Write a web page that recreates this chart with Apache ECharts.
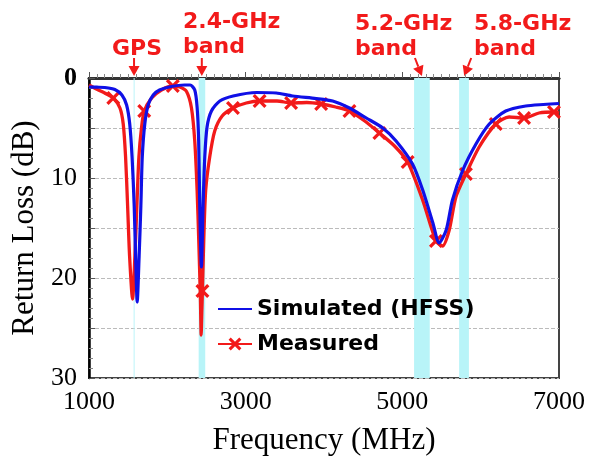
<!DOCTYPE html>
<html><head><meta charset="utf-8">
<script src="https://cdn.jsdelivr.net/npm/echarts/dist/echarts.min.js"></script>
<style>html,body{margin:0;padding:0;background:#fff}#c{width:589px;height:461px}</style>
</head><body><div id="c"></div>
<script>
// ---- data ----
const simFreq = [1000,1100,1200,1330,1420,1480,1520,1550,1577,1595,1615,1640,1662,1680,1712,1755,1820,1900,2050,2220,2290,2350,2380,2400,2414,2435,2456,2478,2507,2563,2670,2840,3140,3390,3600,3900,4110,4325,4540,4750,4920,5130,5260,5390,5470,5560,5640,5770,5940,6110,6320,6575,6800,7000];
const simDb   = [0.9,0.92,0.95,1.15,1.7,2.7,4.6,7.9,12.8,17.8,22.4,17.8,12.8,7.9,4.6,2.7,1.7,1.2,0.85,0.7,0.7,1.2,2.9,6.3,12.8,18.9,12.8,7.9,4.9,3.3,2.3,1.8,1.45,1.5,1.8,2.05,2.3,3.0,4.0,5.0,6.3,8.6,11.2,14.5,16.5,15.2,12.2,9.25,6.6,4.6,3.3,2.8,2.65,2.55];
const measFreq = [1000,1120,1200,1310,1395,1437,1467,1493,1518,1556,1586,1611,1637,1670,1705,1800,1925,2070,2160,2245,2308,2350,2380,2401,2422,2432,2440,2448,2465,2490,2541,2605,2700,2838,3008,3178,3400,3580,3780,3964,4150,4325,4520,4707,4900,5068,5259,5429,5514,5599,5684,5812,5981,6193,6363,6554,6745,6936,7000];
const measDb   = [0.7,1.2,1.5,2.0,3.0,4.6,7.9,12.8,17.8,22.1,17.8,12.8,7.9,5.0,3.3,2.0,1.2,0.8,0.9,1.35,3.0,6.3,11.2,16.2,22.0,25.7,23.5,21.3,16.2,11.2,7.9,5.3,3.8,3.0,2.5,2.3,2.3,2.5,2.45,2.6,2.9,3.3,4.3,5.5,6.8,8.4,12.2,16.3,16.8,15.2,11.9,9.6,6.9,4.6,3.9,4.0,3.5,3.4,3.5];
const markerFreq = [1310,1705,2070,2448,2838,3178,3580,3964,4325,4707,5068,5429,5812,6193,6554,6936];
const xTickLabels = [1000,3000,5000,7000];
const yTickLabels = [0,10,20,30];
const bandFrom = [1570,2400,5150,5725];
const bandTo   = [1582,2484,5350,5850];
const bandTip  = [1575,2440,5250,5790];
const bandLabels = ['GPS','2.4-GHz\nband','5.2-GHz\nband','5.8-GHz\nband'];

const RED = '#f21a1a', BLUE = '#1010e6', CYAN = '#b8f4f8';
const xPath = 'path://M0,2 L2,0 L6,4 L10,0 L12,2 L8,6 L12,10 L10,12 L6,8 L2,12 L0,10 L4,6 Z';

const measData = measFreq.map((f,i)=> markerFreq.includes(f) ? {value:[f,measDb[i]]} : {value:[f,measDb[i]], symbol:'none'});
const simData = simFreq.map((f,i)=>[f,simDb[i]]);

const chart = echarts.init(document.getElementById('c'), null, {renderer:'canvas'});
const serif = 'Liberation Serif';
chart.setOption({
  animation:false,
  backgroundColor:'#fff',
  grid:{left:89,right:30,top:78,bottom:78,show:true,borderColor:'#444',borderWidth:2},
  legend:{
    orient:'vertical', left:212, top:293, itemGap:13, itemWidth:34, itemHeight:16,
    data:[{name:'Simulated (HFSS)', itemStyle:{opacity:0}},'Measured'],
    textStyle:{fontFamily:'DejaVu Sans',fontWeight:'bold',fontSize:22,color:'#000'}
  },
  xAxis:[{
    type:'value', min:1000, max:7000, interval:2000,
    axisLine:{lineStyle:{color:'#000',width:2.5}},
    axisTick:{inside:true,length:6,lineStyle:{color:'#555'}},
    minorTick:{show:true,splitNumber:20,length:4,lineStyle:{color:'#888'}},
    splitLine:{show:false},
    axisLabel:{fontFamily:serif,fontSize:26,color:'#000',margin:11,
      formatter:v=> xTickLabels.includes(v)? String(v):''},
    name:'Frequency (MHz)', nameLocation:'middle', nameGap:47,
    nameTextStyle:{fontFamily:serif,fontSize:31,color:'#000'}
  },{
    type:'value', position:'top', min:1000, max:7000,
    axisLine:{lineStyle:{color:'#333',width:3}}, axisTick:{show:false},
    axisLabel:{show:false}, splitLine:{show:false}
  }],
  yAxis:{
    type:'value', inverse:true, min:0, max:30, interval:5,
    axisLine:{lineStyle:{color:'#000',width:2.5}},
    axisTick:{inside:true,length:6,lineStyle:{color:'#555'}},
    minorTick:{show:true,splitNumber:5,length:4,lineStyle:{color:'#888'}},
    splitLine:{show:true,lineStyle:{color:'#bbb',type:'dashed',width:1}},
    axisLabel:{fontFamily:serif,fontSize:26,color:'#000',margin:12,
      formatter:v=> yTickLabels.includes(v) ? (v===0?'{b|0}':String(v)) : '',
      rich:{b:{fontFamily:serif,fontSize:26,fontWeight:'bold',color:'#000'}}},
    name:'Return Loss (dB)', nameLocation:'middle', nameGap:48,
    nameTextStyle:{fontFamily:serif,fontSize:31,color:'#000'}
  },
  series:[{
    name:'Measured', type:'line', data:measData, z:2,
    symbol:xPath, symbolSize:14, showSymbol:true, smooth:0.25,
    lineStyle:{color:RED,width:3.3}, itemStyle:{color:RED},
    markArea:{silent:true,itemStyle:{color:CYAN,opacity:1},
      data: bandFrom.map((f,i)=>[{xAxis:f},{xAxis:bandTo[i]}])}
  },{
    name:'Simulated (HFSS)', type:'line', data:simData, z:3, smooth:0.25,
    symbol:'none', showSymbol:false,
    lineStyle:{color:BLUE,width:3.2}, itemStyle:{color:BLUE}
  }]
});

// annotations: band labels + arrows
const textPos = [[112,37],[183,10],[355,12],[474,12]];
const starts = [0,0,-7,7];
const g = [];
bandTip.forEach((f,i)=>{
  const tx = chart.convertToPixel({xAxisIndex:0}, f);
  const tipY = 76, sx = tx + starts[i], sy = 58;
  const dx = tx - sx, dy = tipY - sy, L = Math.hypot(dx,dy), ux = dx/L, uy = dy/L;
  const hl = 10, hw = 5.5;
  const bx = tx - ux*hl, by = tipY - uy*hl;
  g.push({type:'line', shape:{x1:sx,y1:sy,x2:bx,y2:by}, style:{stroke:RED,lineWidth:2}});
  g.push({type:'polygon', shape:{points:[[tx,tipY],[bx - uy*hw, by + ux*hw],[bx + uy*hw, by - ux*hw]]}, style:{fill:RED}});
  g.push({type:'text', left:textPos[i][0], top:textPos[i][1],
    style:{text:bandLabels[i], fill:RED, font:'bold 22px "DejaVu Sans"', lineHeight:25}});
});
chart.setOption({graphic:g});
</script></body></html>
